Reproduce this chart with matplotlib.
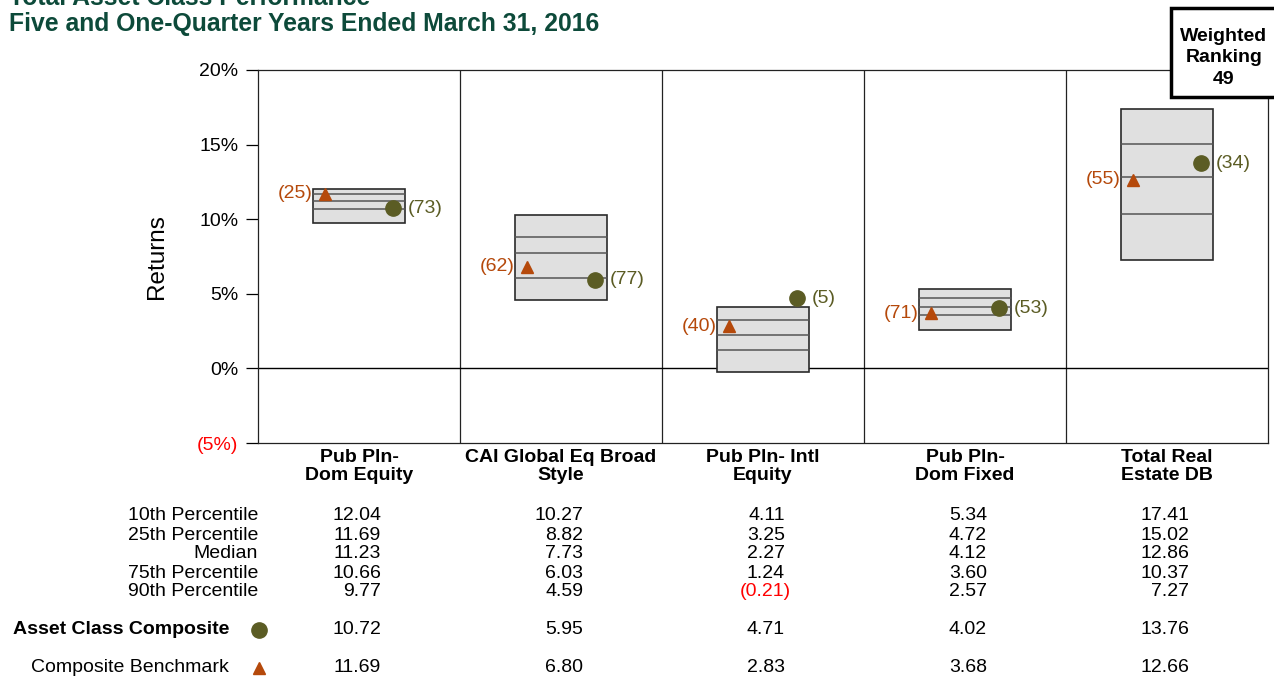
import matplotlib
matplotlib.use("Agg")
import matplotlib.pyplot as plt
import matplotlib.patches as mpatches
from matplotlib.transforms import blended_transform_factory

plt.rcParams["font.family"] = ["Liberation Sans", "DejaVu Sans"]

# Categorias do universo de comparação
categories = [
    "Pub Pln-\nDom Equity",
    "CAI Global Eq Broad\nStyle",
    "Pub Pln- Intl\nEquity",
    "Pub Pln-\nDom Fixed",
    "Total Real\nEstate DB",
]

# Percentis do universo (10, 25, mediana, 75, 90)
p10 = [12.04, 10.27, 4.11, 5.34, 17.41]
p25 = [11.69, 8.82, 3.25, 4.72, 15.02]
median = [11.23, 7.73, 2.27, 4.12, 12.86]
p75 = [10.66, 6.03, 1.24, 3.60, 10.37]
p90 = [9.77, 4.59, -0.21, 2.57, 7.27]

# Composite e benchmark com seus rankings
composite = [10.72, 5.95, 4.71, 4.02, 13.76]
composite_rank = [73, 77, 5, 53, 34]
benchmark = [11.69, 6.80, 2.83, 3.68, 12.66]
benchmark_rank = [25, 62, 40, 71, 55]

yticks = [-5, 0, 5, 10, 15, 20]
weighted_ranking = 49

GREEN_TITLE = "#0d4a3a"
OLIVE = "#5b5c24"
ORANGE = "#b5490b"
RED = "#ff0000"
FS = 14

W, H = 1274, 677
fig = plt.figure(figsize=(W / 100, H / 100), dpi=100)
ax = fig.add_axes([258 / W, 1 - 443 / H, (1268 - 258) / W, (443 - 70) / H])

n = len(categories)
ax.set_xlim(0, n)
ax.set_ylim(-5, 20)

# Separadores de colunas e linha do zero
for i in range(1, n):
    ax.axvline(i, color="#222222", lw=0.9)
ax.axhline(0, color="black", lw=1.0)

half = 0.23
for i in range(n):
    c = i + 0.5
    box = mpatches.Rectangle((c - half, p90[i]), 2 * half, p10[i] - p90[i],
                             facecolor="#e0e0e0", edgecolor="#2a2a2a", lw=1.2, zorder=2)
    ax.add_patch(box)
    for v in (p25[i], median[i], p75[i]):
        ax.plot([c - half, c + half], [v, v], color="#555555", lw=1.1, zorder=3)

    # Benchmark (triângulo) à esquerda
    bx = c - 0.17
    ax.plot(bx, benchmark[i], marker="^", ms=9, color=ORANGE, zorder=5, clip_on=False)
    ax.text(bx - 0.06, benchmark[i], f"({benchmark_rank[i]})", color=ORANGE,
            fontsize=FS, ha="right", va="center", zorder=5)

    # Composite (círculo) à direita
    cx = c + 0.17
    ax.plot(cx, composite[i], marker="o", ms=11, color=OLIVE, zorder=5, clip_on=False)
    ax.text(cx + 0.07, composite[i], f"({composite_rank[i]})", color=OLIVE,
            fontsize=FS, ha="left", va="center", zorder=5)

ax.set_xticks([i + 0.5 for i in range(n)])
ax.set_xticklabels(categories, fontsize=FS, fontweight="bold", linespacing=1.12)
ax.tick_params(axis="x", length=0, pad=4)

ax.set_yticks(yticks)
ax.set_yticklabels([f"({abs(v)}%)" if v < 0 else f"{v}%" for v in yticks], fontsize=FS)
for lbl, v in zip(ax.get_yticklabels(), yticks):
    if v < 0:
        lbl.set_color(RED)
ax.tick_params(axis="y", length=9, width=0.9, direction="out", pad=5)
ax.set_ylabel("Returns", fontsize=17.5, labelpad=21)

for sp in ax.spines.values():
    sp.set_linewidth(0.9)
    sp.set_color("#222222")

# Tabela de valores abaixo do gráfico
tr = blended_transform_factory(ax.transData, fig.transFigure)
row_labels = ["10th Percentile", "25th Percentile", "Median", "75th Percentile", "90th Percentile"]
row_data = [p10, p25, median, p75, p90]
row_y = [516, 535, 554, 573, 592]
dx = 0.109


def fmt(v):
    return f"({abs(v):.2f})" if v < 0 else f"{v:.2f}"


for label, vals, ypx in zip(row_labels, row_data, row_y):
    yf = 1 - ypx / H
    fig.text(258 / W, yf, label, fontsize=FS, ha="right", va="center")
    for i, v in enumerate(vals):
        xoff = dx + (0.03 if v < 0 else 0)
        ax.text(i + 0.5 + xoff, yf, fmt(v), transform=tr, fontsize=FS, ha="right",
                va="center", color=RED if v < 0 else "black")

y_comp = 1 - 630 / H
y_bench = 1 - 668 / H
fig.text(229 / W, y_comp, "Asset Class Composite", fontsize=FS, fontweight="bold",
         ha="right", va="center")
fig.text(229 / W, y_bench, "Composite Benchmark", fontsize=FS, ha="right", va="center")
fig.add_artist(plt.Line2D([259 / W], [y_comp], marker="o", ms=11, color=OLIVE))
fig.add_artist(plt.Line2D([259 / W], [y_bench], marker="^", ms=9, color=ORANGE))
for i in range(n):
    ax.text(i + 0.5 + dx, y_comp, fmt(composite[i]), transform=tr, fontsize=FS,
            ha="right", va="center")
    ax.text(i + 0.5 + dx, y_bench, fmt(benchmark[i]), transform=tr, fontsize=FS,
            ha="right", va="center")

# Títulos
fig.text(9 / W, 1 - 5 / H, "Total Asset Class Performance", fontsize=17.8,
         fontweight="bold", color=GREEN_TITLE, ha="left", va="baseline")
fig.text(9 / W, 1 - 31 / H, "Five and One-Quarter Years Ended March 31, 2016",
         fontsize=17.8, fontweight="bold", color=GREEN_TITLE, ha="left", va="baseline")

# Caixa do ranking ponderado
rank_box = mpatches.Rectangle((1171 / W, 1 - 97 / H), 120 / W, 89 / H,
                              transform=fig.transFigure, facecolor="white",
                              edgecolor="black", lw=2.5, zorder=10)
fig.add_artist(rank_box)
fig.text(1224 / W, 1 - 58 / H, f"Weighted\nRanking\n{weighted_ranking}", fontsize=FS,
         fontweight="bold", ha="center", va="center", linespacing=1.38, zorder=11)

fig.savefig("out.png", dpi=100)
